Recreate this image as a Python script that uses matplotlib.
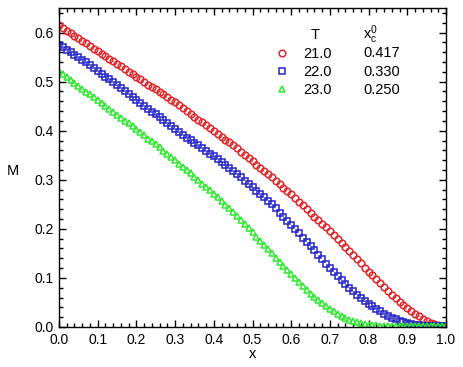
import matplotlib
matplotlib.use("Agg")
import matplotlib.pyplot as plt
from matplotlib.ticker import MultipleLocator, FormatStrFormatter
import numpy as np

plt.rcParams['font.family'] = ['Liberation Sans', 'DejaVu Sans']
plt.rcParams['mathtext.fontset'] = 'custom'
plt.rcParams['mathtext.rm'] = 'Liberation Sans'
plt.rcParams['mathtext.it'] = 'Liberation Sans'

x = np.round(np.arange(0, 101) * 0.01, 2)

m_21 = [0.615, 0.610, 0.604, 0.599, 0.593, 0.588, 0.583, 0.578, 0.572, 0.567,
        0.562, 0.557, 0.552, 0.546, 0.541, 0.536, 0.531, 0.526, 0.520, 0.515,
        0.510, 0.505, 0.500, 0.494, 0.489, 0.484, 0.479, 0.474, 0.468, 0.463,
        0.458, 0.452, 0.446, 0.440, 0.434, 0.428, 0.422, 0.417, 0.411, 0.406,
        0.400, 0.394, 0.388, 0.382, 0.376, 0.370, 0.364, 0.357, 0.351, 0.344,
        0.338, 0.331, 0.325, 0.318, 0.312, 0.305, 0.298, 0.291, 0.284, 0.277,
        0.270, 0.263, 0.255, 0.248, 0.240, 0.233, 0.225, 0.218, 0.210, 0.203,
        0.195, 0.187, 0.179, 0.171, 0.163, 0.155, 0.147, 0.138, 0.130, 0.121,
        0.113, 0.105, 0.097, 0.089, 0.081, 0.073, 0.066, 0.059, 0.051, 0.044,
        0.038, 0.032, 0.027, 0.022, 0.017, 0.013, 0.009, 0.006, 0.004, 0.003,
        0.002]

m_22 = [0.575, 0.570, 0.565, 0.560, 0.555, 0.550, 0.544, 0.539, 0.533, 0.528,
        0.522, 0.516, 0.510, 0.505, 0.499, 0.493, 0.487, 0.481, 0.475, 0.469,
        0.463, 0.457, 0.451, 0.445, 0.439, 0.433, 0.427, 0.421, 0.415, 0.409,
        0.403, 0.397, 0.392, 0.386, 0.381, 0.375, 0.370, 0.364, 0.359, 0.353,
        0.348, 0.342, 0.336, 0.330, 0.324, 0.318, 0.311, 0.305, 0.298, 0.292,
        0.285, 0.278, 0.271, 0.264, 0.257, 0.250, 0.242, 0.233, 0.225, 0.216,
        0.208, 0.199, 0.191, 0.182, 0.174, 0.165, 0.156, 0.147, 0.138, 0.129,
        0.120, 0.112, 0.104, 0.096, 0.088, 0.080, 0.073, 0.066, 0.060, 0.053,
        0.047, 0.042, 0.037, 0.032, 0.027, 0.022, 0.019, 0.016, 0.013, 0.010,
        0.008, 0.006, 0.005, 0.004, 0.003, 0.003, 0.002, 0.002, 0.002, 0.002,
        0.002]

m_23 = [0.522, 0.516, 0.509, 0.503, 0.497, 0.491, 0.485, 0.479, 0.474, 0.468,
        0.462, 0.456, 0.450, 0.444, 0.438, 0.432, 0.426, 0.420, 0.415, 0.409,
        0.403, 0.397, 0.391, 0.384, 0.378, 0.372, 0.366, 0.359, 0.353, 0.346,
        0.340, 0.333, 0.326, 0.320, 0.313, 0.306, 0.299, 0.292, 0.286, 0.279,
        0.272, 0.264, 0.257, 0.249, 0.242, 0.234, 0.226, 0.218, 0.209, 0.201,
        0.193, 0.184, 0.176, 0.167, 0.159, 0.150, 0.141, 0.133, 0.124, 0.116,
        0.107, 0.099, 0.091, 0.083, 0.076, 0.068, 0.062, 0.055, 0.049, 0.043,
        0.037, 0.032, 0.027, 0.023, 0.019, 0.015, 0.012, 0.010, 0.008, 0.006,
        0.005, 0.004, 0.004, 0.003, 0.003, 0.003, 0.002, 0.002, 0.002, 0.002,
        0.002, 0.002, 0.002, 0.002, 0.002, 0.002, 0.002, 0.002, 0.002, 0.002,
        0.002]

temps = ["21.0", "22.0", "23.0"]
xc0 = ["0.417", "0.330", "0.250"]
series = [m_21, m_22, m_23]
markers = ['o', 's', '^']
colors = ['#e2262a', '#2424c8', '#2ee82e']

MS = 4.8
MEW = 1.1
FS = 10.5

fig = plt.figure(figsize=(4.63, 3.67), dpi=100)
ax = fig.add_axes([59/463, 1 - 327/367, (446 - 59)/463, (327 - 8)/367])

for m, mk, c in zip(series, markers, colors):
    ax.plot(x, m, linestyle='none', marker=mk, markersize=MS,
            markerfacecolor='none', markeredgecolor=c, markeredgewidth=MEW)

ax.set_xlim(0, 1.0)
ax.set_ylim(0, 0.65)
ax.xaxis.set_major_locator(MultipleLocator(0.1))
ax.xaxis.set_minor_locator(MultipleLocator(0.02))
ax.yaxis.set_major_locator(MultipleLocator(0.1))
ax.yaxis.set_minor_locator(MultipleLocator(0.02))
ax.xaxis.set_major_formatter(FormatStrFormatter('%.1f'))
ax.yaxis.set_major_formatter(FormatStrFormatter('%.1f'))
ax.tick_params(which='both', direction='in', top=True, right=True,
               labelsize=10, width=1.0, pad=4)
ax.tick_params(which='major', length=5)
ax.tick_params(which='minor', length=3)
for s in ax.spines.values():
    s.set_linewidth(1.0)

ax.set_xlabel('x', fontsize=FS, labelpad=0)
ax.set_ylabel('M', fontsize=FS, rotation=0, ha='center', va='center')
ax.yaxis.set_label_coords(-0.12, 0.49)

# legend table
ax.text(0.661, 0.915, 'T', transform=ax.transAxes, fontsize=FS,
        ha='center', va='center')
ax.text(0.786, 0.915, r'x$_\mathrm{c}^\mathrm{0}$', transform=ax.transAxes,
        fontsize=FS, ha='left', va='center')
handles = []
for mk, c in zip(markers, colors):
    h, = ax.plot([], [], linestyle='none', marker=mk, markersize=MS,
                 markerfacecolor='none', markeredgecolor=c, markeredgewidth=MEW)
    handles.append(h)
leg = ax.legend(handles, temps, loc='center left', bbox_to_anchor=(0.557, 0.799),
                frameon=False, fontsize=FS, handlelength=1.0, borderpad=0.0,
                handletextpad=0.94, labelspacing=0.27, borderaxespad=0.0)
row_y = [0.859, 0.799, 0.743]
for v, yy in zip(xc0, row_y):
    ax.text(0.786, yy, v, transform=ax.transAxes, fontsize=FS,
            ha='left', va='center')

fig.savefig('out.png', dpi=100)
